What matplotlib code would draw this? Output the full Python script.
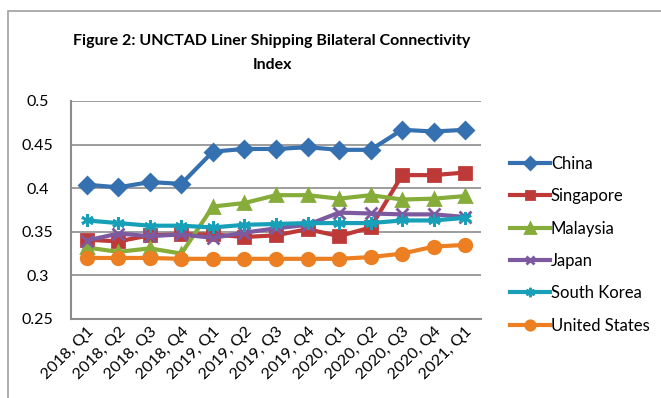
import numpy as np
import matplotlib
matplotlib.use("Agg")
import matplotlib.pyplot as plt
from matplotlib.patches import Rectangle

plt.rcParams['font.family'] = ['Lato', 'DejaVu Sans']

quarters = ["2018, Q1", "2018, Q2", "2018, Q3", "2018, Q4",
            "2019, Q1", "2019, Q2", "2019, Q3", "2019, Q4",
            "2020, Q1", "2020, Q2", "2020, Q3", "2020, Q4", "2021, Q1"]

china = [0.404, 0.401, 0.407, 0.405, 0.442, 0.445, 0.445, 0.447, 0.444, 0.444, 0.467, 0.465, 0.467]
singapore = [0.341, 0.339, 0.346, 0.347, 0.347, 0.344, 0.346, 0.353, 0.345, 0.355, 0.415, 0.415, 0.418]
malaysia = [0.332, 0.327, 0.331, 0.325, 0.379, 0.383, 0.392, 0.392, 0.388, 0.392, 0.387, 0.388, 0.391]
japan = [0.340, 0.348, 0.345, 0.347, 0.343, 0.349, 0.354, 0.358, 0.372, 0.371, 0.370, 0.370, 0.367]
south_korea = [0.363, 0.360, 0.357, 0.357, 0.355, 0.358, 0.359, 0.360, 0.360, 0.360, 0.363, 0.363, 0.366]
united_states = [0.320, 0.320, 0.320, 0.319, 0.319, 0.319, 0.319, 0.319, 0.319, 0.321, 0.325, 0.333, 0.335]

series = [
    ("China", china, '#3570B0', 'D', 8),
    ("Singapore", singapore, '#BE3A38', 's', 8),
    ("Malaysia", malaysia, '#86AC3A', '^', 9),
    ("Japan", japan, '#7D5A9F', 'x', 8),
    ("South Korea", south_korea, '#17A0B8', (6, 2, 0), 9),
    ("United States", united_states, '#EB7F22', 'o', 9),
]

fig = plt.figure(figsize=(6.61, 3.98), dpi=100)
ax = fig.add_axes([71 / 661, 1 - 319 / 398, 410 / 661, 218 / 398])

x = np.arange(len(quarters))
for name, vals, col, mk, ms in series:
    ax.plot(x, vals, color=col, lw=3, marker=mk, ms=ms, mew=2,
            mfc=col, mec=col, label=name)

ax.set_xlim(-0.5, len(quarters) - 0.5)
ax.set_ylim(0.25, 0.5)
ax.set_yticks([0.25, 0.3, 0.35, 0.4, 0.45, 0.5])
ax.set_yticklabels(["0.25", "0.3", "0.35", "0.4", "0.45", "0.5"], ha='center')
ax.set_xticks(x)
ax.set_xticklabels(quarters, rotation=45, ha='right', rotation_mode='anchor')
ax.tick_params(axis='both', length=0, labelsize=11.5, colors='black')
ax.tick_params(axis='y', pad=24)
ax.tick_params(axis='x', pad=4)
ax.grid(axis='y', color='#8c8c8c', lw=1.2)
ax.set_axisbelow(True)
for s in ['top', 'right']:
    ax.spines[s].set_visible(False)
for s in ['left', 'bottom']:
    ax.spines[s].set_color('#8c8c8c')
    ax.spines[s].set_linewidth(1.5)

fig.text(272 / 661, 1 - 53 / 398, "Figure 2: UNCTAD Liner Shipping Bilateral Connectivity\nIndex",
         ha='center', va='center', fontsize=11.5, fontweight='bold', linespacing=1.9)

ax.legend(loc='upper left', bbox_to_anchor=(495 / 661, 1 - 141 / 398),
          bbox_transform=fig.transFigure, frameon=False, fontsize=12,
          handlelength=2.4, handletextpad=0.05, labelspacing=0.98,
          markerscale=0.75)

# outer chart border (right and bottom edges are cut off in the original)
fig.patches.append(Rectangle((8 / 661, -0.05), 1.0, 1 - 11 / 398 + 0.05,
                             transform=fig.transFigure, fill=False,
                             edgecolor='#a0a0a0', lw=1.2))

fig.savefig("out.png", dpi=100)
